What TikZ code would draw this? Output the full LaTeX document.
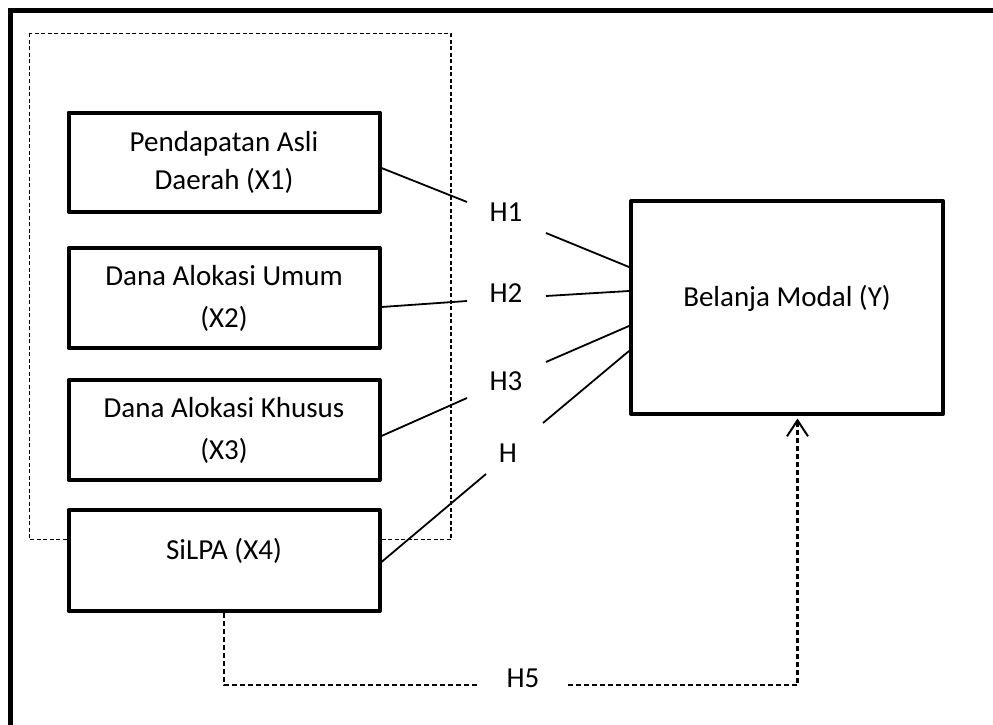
\documentclass[tikz,border=0pt]{standalone}
\usepackage{fontspec}
\setmainfont{Carlito}
\usetikzlibrary{arrows.meta,calc,backgrounds}
\begin{document}
\begin{tikzpicture}[x=1pt,y=-1pt,
  box/.style={draw, line width=4pt, line join=round, fill=white,
    minimum width=311pt, minimum height=100pt, inner sep=0pt,
    font=\fontsize{29}{42}\selectfont},
  twoline/.style={box, align=center},
  hyp/.style={font=\fontsize{29}{38}\selectfont, anchor=base, inner sep=0pt},
  conn/.style={line width=1.8pt},
  dconn/.style={line width=2.2pt, dash pattern=on 5pt off 3pt},
  frame/.style={line width=5pt},
  group/.style={line width=1.6pt, dash pattern=on 4pt off 2.5pt}
]
\useasboundingbox (0,0) rectangle (993,725);
\draw[frame] (10,740) -- (10,10.5) -- (1010,10.5);
\draw[group] (29.5,33.5) rectangle (451,539.5);

\node[twoline, minimum height=99pt, font=\fontsize{29}{38}\selectfont] (x1) at (224,162) {Pendapatan Asli\\Daerah (X1)};
\node[twoline] (x2) at (224,298) {Dana Alokasi Umum\\(X2)};
\node[twoline] (x3) at (224,430) {Dana Alokasi Khusus\\(X3)};
\node[box, minimum height=101pt, text height=19pt, text depth=22pt] (x4) at (224,560.5) {SiLPA (X4)};
\node[box, minimum width=312pt, minimum height=213pt, text height=19pt, text depth=21pt] (y) at (787,307.5) {Belanja Modal (Y)};

\node[hyp] (h1) at (506,221) {H1};
\node[hyp] (h2) at (506,302) {H2};
\node[hyp] (h3) at (506,390) {H3};
\node[hyp] (h4) at (508,462) {H};
\node[hyp] (h5) at (523,687) {H5};

\coordinate (a1) at (467,202);
\coordinate (b1) at (546,233);
\coordinate (a2) at (467,301);
\coordinate (b2) at (546,296);
\coordinate (a3) at (467,398);
\coordinate (b3) at (546,362);
\coordinate (a4) at (486,474);
\coordinate (b4) at (543,423);
\coordinate (c1) at (477,685);
\coordinate (c2) at (568,685);

\begin{scope}[on background layer]
  \fill[white] (0,0) rectangle (993,725);
  \draw[conn] ($(x1.east)+(0,6)$) -- (a1);
  \draw[conn] (b1) -- ($(y.west)+(0,-40.5)$);
  \draw[conn] ($(x2.east)+(0,9)$) -- (a2);
  \draw[conn] (b2) -- ($(y.west)+(0,-16.5)$);
  \draw[conn] ($(x3.east)+(0,6)$) -- (a3);
  \draw[conn] (b3) -- ($(y.west)+(0,18.5)$);
  \draw[conn] ($(x4.east)+(0,1.5)$) -- (a4);
  \draw[conn] (b4) -- ($(y.west)+(0,43.5)$);
  \draw[dconn] (x4.south) |- (c1);
  \draw[dconn, -{Straight Barb[length=16pt,width=21pt,line width=2pt]}] (c2) -| ($(y.south)+(10.5,2.5)$);
\end{scope}
\end{tikzpicture}
\end{document}
